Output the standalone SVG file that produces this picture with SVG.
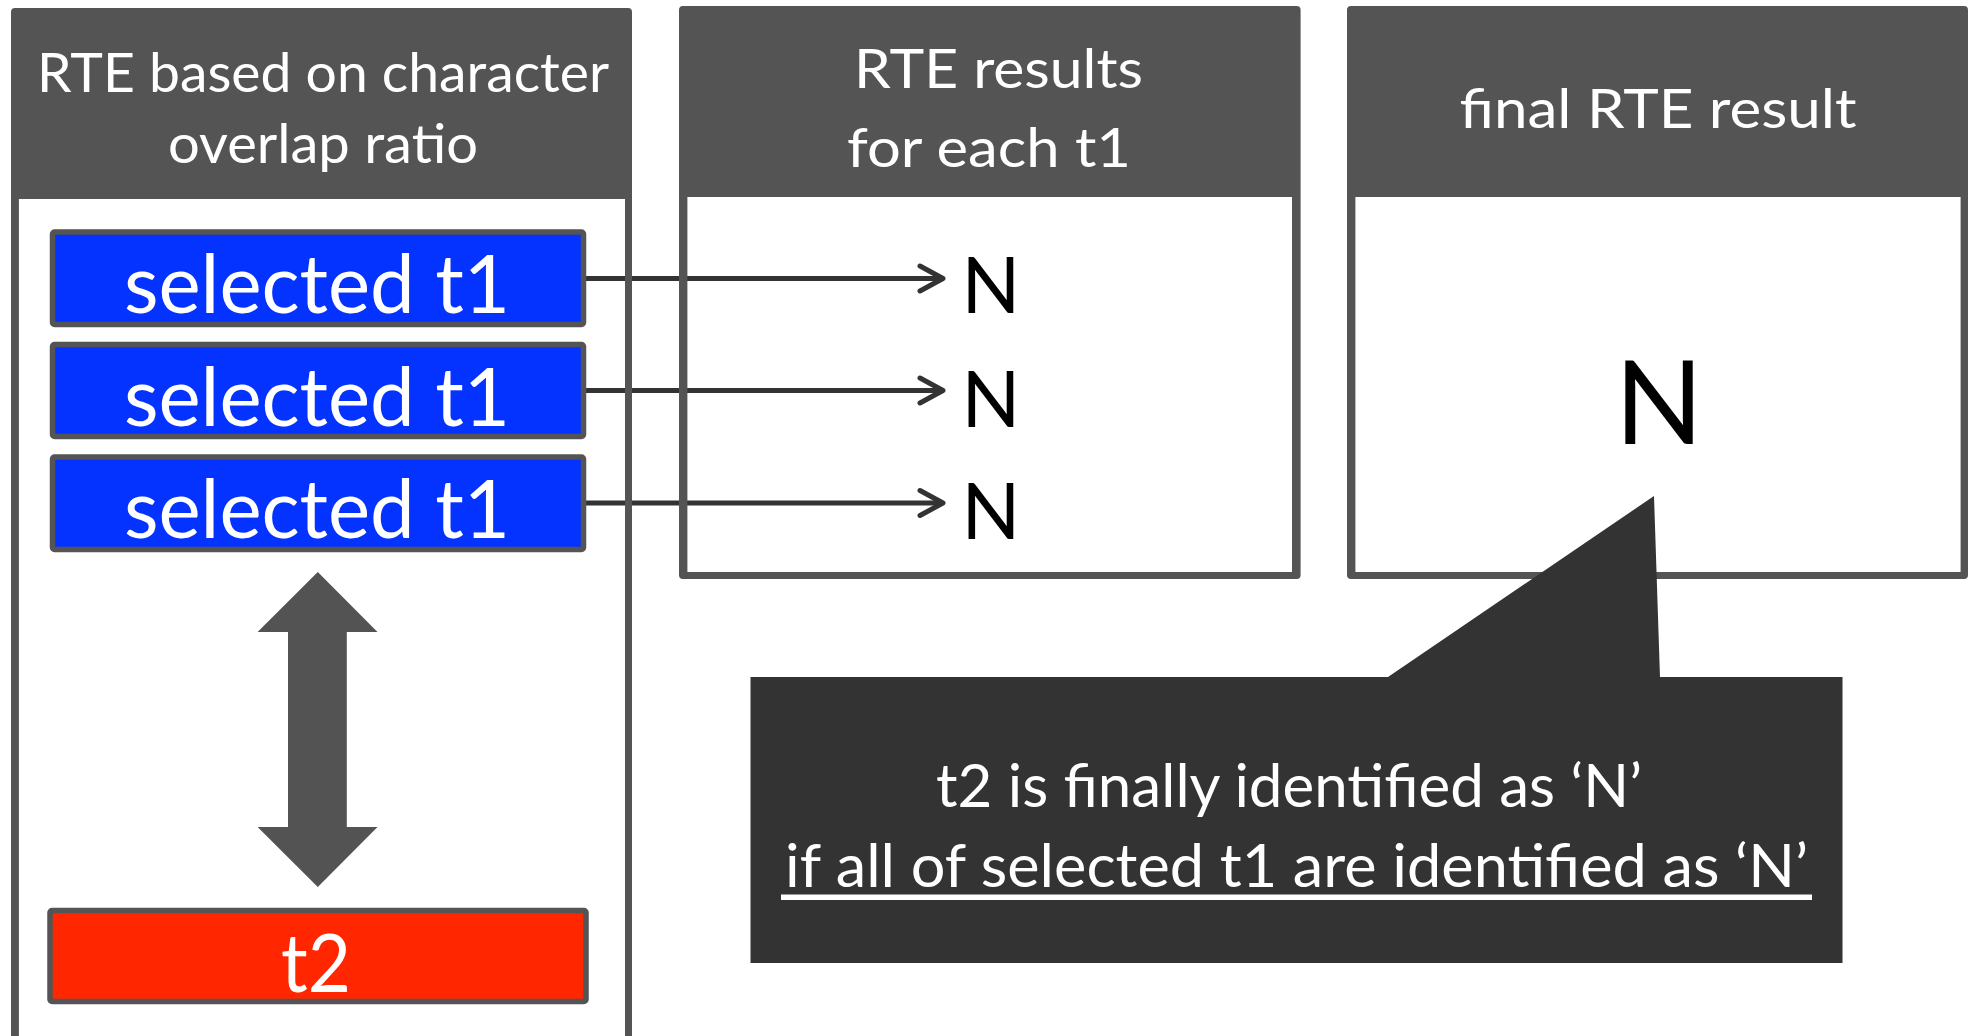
<svg xmlns="http://www.w3.org/2000/svg" width="1973" height="1036" viewBox="0 0 1973 1036">
  <style>
    .frame { fill: #545454; fill-rule: evenodd; }
    .head { fill: #ffffff; font-family: Lato, "Liberation Sans", sans-serif; font-size: 54px; text-anchor: middle; }
    .item { stroke: #545454; stroke-width: 5.5; }
    .t1 { fill: #0433ff; }
    .t2 { fill: #ff2600; }
    .itemtext { fill: #ffffff; font-family: Lato, "Liberation Sans", sans-serif; font-size: 82px; text-anchor: middle; }
    .res { fill: #000000; font-family: Lato, "Liberation Sans", sans-serif; text-anchor: middle; }
    .link { stroke: #333333; stroke-width: 5; fill: none; marker-end: url(#chevron); }
    .note { fill: #333333; }
    .notetext { fill: #ffffff; font-family: Lato, "Liberation Sans", sans-serif; font-size: 60px; text-anchor: middle; }
  </style>
  <defs>
    <marker id="chevron" markerUnits="userSpaceOnUse" viewBox="0 0 30 30" markerWidth="30" markerHeight="30" refX="25" refY="15" orient="auto" overflow="visible">
      <path d="M2,2.5 L25,15 L2,27.5" fill="none" stroke="#333333" stroke-width="5" stroke-linecap="round" stroke-linejoin="round"/>
    </marker>
  </defs>

  <rect width="1973" height="1036" fill="#ffffff"/>

  <!-- arrows from each selected t1 to its result -->
  <g id="connectors">
    <line class="link" x1="585" y1="278.5" x2="943" y2="278.5"/>
    <line class="link" x1="585" y1="390.5" x2="943" y2="390.5"/>
    <line class="link" x1="585" y1="503" x2="943" y2="503"/>
  </g>

  <!-- left panel: overlap-ratio selection -->
  <g id="panel-overlap">
    <path class="frame" d="M11,12 Q11,8 15,8 L628,8 Q632,8 632,12 L632,1050 L11,1050 Z M18.9,199 L18.9,1050 L625,1050 L625,199 Z"/>
    <text class="head" x="323" y="92" textLength="572" lengthAdjust="spacingAndGlyphs">RTE based on character</text>
    <text class="head" x="323" y="163" textLength="310" lengthAdjust="spacingAndGlyphs">overlap ratio</text>
  </g>

  <g id="t1-a">
    <rect class="item t1" x="52.5" y="232" width="531" height="92.5" rx="2"/>
    <text class="itemtext" x="317" y="313" textLength="386" lengthAdjust="spacingAndGlyphs">selected t1</text>
  </g>
  <g id="t1-b">
    <rect class="item t1" x="52.5" y="344.5" width="531" height="92" rx="2"/>
    <text class="itemtext" x="317" y="426" textLength="386" lengthAdjust="spacingAndGlyphs">selected t1</text>
  </g>
  <g id="t1-c">
    <rect class="item t1" x="52.5" y="457" width="531" height="92.5" rx="2"/>
    <text class="itemtext" x="317" y="538" textLength="386" lengthAdjust="spacingAndGlyphs">selected t1</text>
  </g>

  <g id="overlap-arrow">
    <polygon fill="#535353" points="317.8,572 377.5,632 346.8,632 346.8,827 377.5,827 317.8,887 257.6,827 288,827 288,632 257.6,632"/>
  </g>

  <g id="t2">
    <rect class="item t2" x="50" y="910.5" width="536" height="91" rx="2"/>
    <text class="itemtext" x="316" y="992" textLength="70" lengthAdjust="spacingAndGlyphs">t2</text>
  </g>

  <!-- middle panel: per-t1 results -->
  <g id="panel-results">
    <path class="frame" d="M679,10 Q679,6 683,6 L1296.6,6 Q1300.6,6 1300.6,10 L1300.6,575 Q1300.6,579 1296.6,579 L683,579 Q679,579 679,575 Z M687.4,197 L687.4,572 L1292,572 L1292,197 Z"/>
    <text class="head" x="998.5" y="88" textLength="289" lengthAdjust="spacingAndGlyphs">RTE results</text>
    <text class="head" x="989" y="167" textLength="284" lengthAdjust="spacingAndGlyphs">for each t1</text>
    <text class="res" x="991" y="313" font-size="77">N</text>
    <text class="res" x="991" y="427" font-size="77">N</text>
    <text class="res" x="991" y="539" font-size="77">N</text>
  </g>

  <!-- right panel: final result -->
  <g id="panel-final">
    <path class="frame" d="M1347,10 Q1347,6 1351,6 L1964,6 Q1968,6 1968,10 L1968,575 Q1968,579 1964,579 L1351,579 Q1347,579 1347,575 Z M1355.4,197 L1355.4,572 L1960.6,572 L1960.6,197 Z"/>
    <text class="head" x="1658" y="128" textLength="397" lengthAdjust="spacingAndGlyphs">final RTE result</text>
    <text class="res" x="1659" y="444" font-size="116">N</text>
  </g>

  <!-- speech callout pointing at the final result -->
  <g id="callout">
    <path class="note" d="M750.5,677 L1388,677 L1654,496 L1660,677 L1842.5,677 L1842.5,963 L750.5,963 Z"/>
    <text class="notetext" x="1289" y="806.5" textLength="706" lengthAdjust="spacingAndGlyphs">t2 is finally identified as ‘N’</text>
    <text class="notetext" x="1296.5" y="886.7" textLength="1023" lengthAdjust="spacingAndGlyphs">if all of selected t1 are identified as ‘N’</text>
    <rect x="781" y="894.5" width="1031" height="5.5" fill="#ffffff"/>
  </g>
</svg>
